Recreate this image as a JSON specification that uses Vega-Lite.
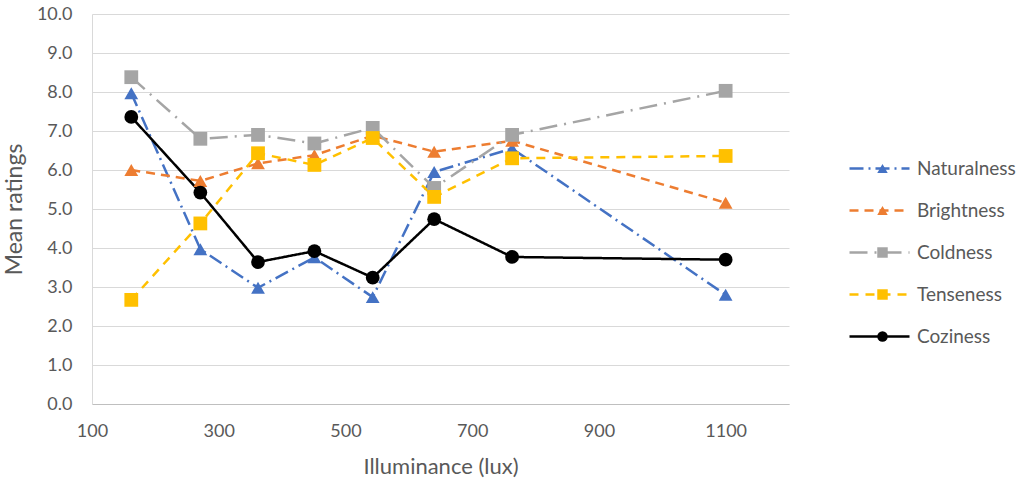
{
  "$schema": "https://vega.github.io/schema/vega-lite/v6.json",
  "autosize": "none",
  "width": 697,
  "height": 390,
  "padding": {"left": 92, "top": 14, "right": 238, "bottom": 75},
  "background": "white",
  "config": {
    "view": {"stroke": null},
    "font": "Lato",
    "axis": {"labelFont": "Lato", "titleFont": "Lato", "labelColor": "#595959", "titleColor": "#595959", "labelFontSize": 18, "titleFontSize": 22, "titleFontWeight": "normal", "ticks": false},
    "legend": {"labelFont": "Lato", "labelFontSize": 19, "labelColor": "#595959", "padding": 0}
  },
  "data": {"values": [
    {"lux": 162, "series": "Naturalness", "rating": 7.97},
    {"lux": 271, "series": "Naturalness", "rating": 3.97},
    {"lux": 362, "series": "Naturalness", "rating": 2.98},
    {"lux": 451, "series": "Naturalness", "rating": 3.76},
    {"lux": 543, "series": "Naturalness", "rating": 2.74},
    {"lux": 640, "series": "Naturalness", "rating": 5.95},
    {"lux": 763, "series": "Naturalness", "rating": 6.55},
    {"lux": 1100, "series": "Naturalness", "rating": 2.8},
    {"lux": 162, "series": "Brightness", "rating": 6.0},
    {"lux": 271, "series": "Brightness", "rating": 5.72},
    {"lux": 362, "series": "Brightness", "rating": 6.17},
    {"lux": 451, "series": "Brightness", "rating": 6.38},
    {"lux": 543, "series": "Brightness", "rating": 6.88},
    {"lux": 640, "series": "Brightness", "rating": 6.47},
    {"lux": 763, "series": "Brightness", "rating": 6.75},
    {"lux": 1100, "series": "Brightness", "rating": 5.16},
    {"lux": 162, "series": "Coldness", "rating": 8.38},
    {"lux": 271, "series": "Coldness", "rating": 6.8},
    {"lux": 362, "series": "Coldness", "rating": 6.9},
    {"lux": 451, "series": "Coldness", "rating": 6.68},
    {"lux": 543, "series": "Coldness", "rating": 7.08},
    {"lux": 640, "series": "Coldness", "rating": 5.54},
    {"lux": 763, "series": "Coldness", "rating": 6.9},
    {"lux": 1100, "series": "Coldness", "rating": 8.03},
    {"lux": 162, "series": "Tenseness", "rating": 2.67},
    {"lux": 271, "series": "Tenseness", "rating": 4.63},
    {"lux": 362, "series": "Tenseness", "rating": 6.43},
    {"lux": 451, "series": "Tenseness", "rating": 6.13},
    {"lux": 543, "series": "Tenseness", "rating": 6.82},
    {"lux": 640, "series": "Tenseness", "rating": 5.31},
    {"lux": 763, "series": "Tenseness", "rating": 6.3},
    {"lux": 1100, "series": "Tenseness", "rating": 6.36},
    {"lux": 162, "series": "Coziness", "rating": 7.36},
    {"lux": 271, "series": "Coziness", "rating": 5.42},
    {"lux": 362, "series": "Coziness", "rating": 3.64},
    {"lux": 451, "series": "Coziness", "rating": 3.92},
    {"lux": 543, "series": "Coziness", "rating": 3.24},
    {"lux": 640, "series": "Coziness", "rating": 4.74},
    {"lux": 763, "series": "Coziness", "rating": 3.77},
    {"lux": 1100, "series": "Coziness", "rating": 3.7}
  ]},
  "encoding": {
    "x": {"field": "lux", "type": "quantitative", "title": "Illuminance (lux)",
      "scale": {"domain": [100, 1200], "nice": false, "zero": false},
      "axis": {"values": [100, 300, 500, 700, 900, 1100], "format": "d", "labelFlush": false, "grid": false, "domainColor": "#BFBFBF", "domainWidth": 1, "labelPadding": 18, "titlePadding": 16}},
    "y": {"field": "rating", "type": "quantitative", "title": "Mean ratings",
      "scale": {"domain": [0, 10], "nice": false},
      "axis": {"values": [0,1,2,3,4,5,6,7,8,9,10], "format": ".1f", "labelFlush": false, "grid": true, "gridColor": "#D9D9D9", "gridWidth": 1, "domainColor": "#D9D9D9", "labelPadding": 20, "titlePadding": 10, "titleFontSize": 23}}
  },
  "layer": [
    {
      "mark": {"type": "line", "strokeWidth": 2.5},
      "encoding": {
        "color": {"field": "series", "type": "nominal",
          "scale": {"domain": ["Naturalness", "Brightness", "Coldness", "Tenseness", "Coziness"], "range": ["#4472C4", "#ED7D31", "#A5A5A5", "#FFC000", "#000000"]},
          "legend": {"title": null, "orient": "none", "legendX": 756, "legendY": 123, "symbolType": "stroke", "symbolSize": 3600, "symbolStrokeWidth": 2.5, "rowPadding": 0, "labelOffset": 6}},
        "strokeDash": {"field": "series", "type": "nominal",
          "scale": {"domain": ["Naturalness", "Brightness", "Coldness", "Tenseness", "Coziness"], "range": [[14, 5, 2, 5], [9, 6], [18, 7, 2, 7], [9, 7], [1, 0]]},
          "legend": {"title": null, "orient": "none", "legendX": 756, "legendY": 123, "symbolType": "stroke", "symbolSize": 3600, "symbolStrokeWidth": 2.5, "rowPadding": 0, "labelOffset": 6}}
      }
    },
    {
      "mark": {"type": "point", "filled": true, "opacity": 1},
      "encoding": {
        "color": {"field": "series", "type": "nominal",
          "legend": {"title": null, "orient": "none", "legendX": 782, "legendY": 146, "symbolSize": 110, "rowPadding": 24, "labelFontSize": 17, "labelOpacity": 0, "symbolOpacity": 1}},
        "shape": {"field": "series", "type": "nominal",
          "scale": {"domain": ["Naturalness", "Brightness", "Coldness", "Tenseness", "Coziness"], "range": ["triangle-up", "triangle-up", "square", "square", "circle"]},
          "legend": {"title": null, "orient": "none", "legendX": 782, "legendY": 146, "symbolSize": 110, "rowPadding": 24, "labelFontSize": 17, "labelOpacity": 0, "symbolOpacity": 1}},
        "size": {"field": "series", "type": "nominal",
          "scale": {"domain": ["Naturalness", "Brightness", "Coldness", "Tenseness", "Coziness"], "range": [190, 190, 130, 130, 80]},
          "legend": null}
      }
    }
  ],
  "resolve": {"legend": {"color": "independent", "shape": "independent", "strokeDash": "independent"}}
}
